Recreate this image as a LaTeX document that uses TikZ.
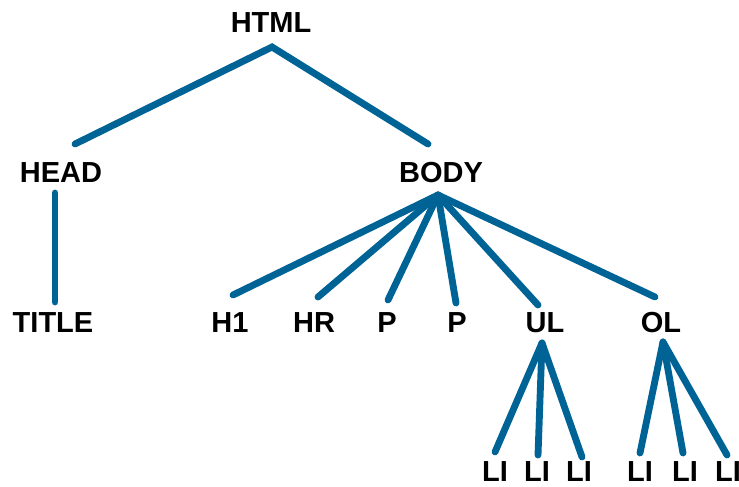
\documentclass[tikz,border=0pt]{standalone}
\usepackage{fontspec}
\setmainfont{Liberation Sans}
\definecolor{treeblue}{RGB}{0,99,150}
\tikzset{
  tag/.style={font=\fontsize{16.5}{18}\selectfont\bfseries, inner sep=0pt},
  branch/.style={draw=treeblue, line width=3.9pt, line cap=round}
}
\begin{document}
\begin{tikzpicture}[x=0.02cm,y=-0.02cm]
    \useasboundingbox (0,0) rectangle (739,486);

    \node[tag] (html) at (271,23) {HTML};
    \node[tag] (head) at (61,173) {HEAD};
    \node[tag] (body) at (441,173) {BODY};
    \node[tag] (title) at (53,323) {TITLE};

    \coordinate (html-j) at (272,47);
    \coordinate (head-t) at (75,144);
    \coordinate (body-t) at (428,144);
    \coordinate (head-j) at (55,193);
    \coordinate (title-t) at (55,302);
    \coordinate (body-j) at (438,195);

    \draw[branch] (head-t) -- (html-j) -- (body-t);
    \draw[branch] (head-j) -- (title-t);

    % children of BODY
    \foreach \n/\t/\x/\ex/\ey in {h1/H1/230/233/295, hr/HR/314/318/297, p1/P/387/388/300,
                                  p2/P/457/456/303, ul/UL/545/538/305, ol/OL/661/655/297} {
      \node[tag] (\n) at (\x,323) {\t};
      \coordinate (\n-t) at (\ex,\ey);
      \draw[branch] (body-j) -- (\n-t);
    }

    % list items
    \coordinate (ul-j) at (542,343);
    \coordinate (ol-j) at (663,342);
    \foreach \n/\p/\x/\ex/\ey in {li1/ul/495/495/452, li2/ul/537/538/455, li3/ul/579/582/457,
                                  li4/ol/640/640/453, li5/ol/685/683/453, li6/ol/728/727/455} {
      \node[tag] (\n) at (\x,472) {LI};
      \coordinate (\n-t) at (\ex,\ey);
      \draw[branch] (\p-j) -- (\n-t);
    }
  \end{tikzpicture}
\end{document}
